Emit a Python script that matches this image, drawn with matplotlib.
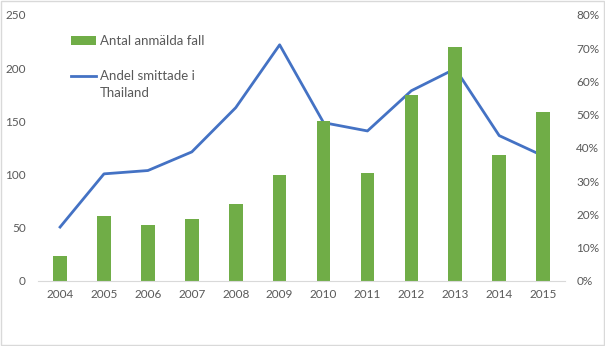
import numpy as np
import matplotlib.pyplot as plt
from matplotlib.ticker import PercentFormatter

years = ['2004', '2005', '2006', '2007', '2008', '2009',
         '2010', '2011', '2012', '2013', '2014', '2015']
cases = [23, 61, 53, 58, 72, 100, 150, 101, 175, 220, 118, 159]
share_thailand = [16.2, 32.2, 33.2, 38.8, 52.1, 71.0, 47.6, 45.1, 57.2, 63.8, 43.7, 37.6]

plt.rcParams['font.family'] = ['Lato', 'DejaVu Sans']
grey = '#595959'

fig = plt.figure(figsize=(6.05, 3.46), dpi=100)
ax = fig.add_axes([0.063, 0.188, 0.871, 0.769])
ax2 = ax.twinx()

x = np.arange(len(years))
bars = ax.bar(x, cases, width=0.31, color='#70ad47', zorder=2)
line, = ax2.plot(x, share_thailand, color='#4472c4', lw=2.0, zorder=3)

ax.set_xlim(-0.5, len(years) - 0.5)
ax.set_ylim(0, 250)
ax.set_yticks(np.arange(0, 251, 50))
ax2.set_ylim(0, 80)
ax2.set_yticks(np.arange(0, 81, 10))
ax2.yaxis.set_major_formatter(PercentFormatter(decimals=0))
ax.set_xticks(x)
ax.set_xticklabels(years)

for a in (ax, ax2):
    for s in a.spines.values():
        s.set_visible(False)
    a.tick_params(length=0, labelsize=8.5, colors=grey)
ax.spines['bottom'].set_visible(True)
ax.spines['bottom'].set_color('#d9d9d9')
ax.tick_params(axis='x', pad=6)
ax.tick_params(axis='y', pad=9)
ax2.tick_params(axis='y', pad=8)

ax.set_zorder(ax2.get_zorder() + 1)
ax.patch.set_visible(False)

leg = fig.legend([bars, line], ['Antal anmälda fall', 'Andel smittade i'],
                 loc='upper left', bbox_to_anchor=(0.098, 0.932), frameon=False,
                 fontsize=9.5, handlelength=1.9, handleheight=0.7, handletextpad=0.3,
                 labelspacing=1.75, labelcolor=grey)

# second line of the legend label sits under the first, handle stays on line one
fig.canvas.draw()
bb = leg.get_texts()[1].get_window_extent().transformed(fig.transFigure.inverted())
fig.text(bb.x0, bb.y0 - 0.014, 'Thailand', fontsize=9.5, color=grey, va='top', ha='left')

fig.patches.append(plt.Rectangle((0.001, 0.002), 0.997, 0.995, transform=fig.transFigure,
                                 fill=False, edgecolor='#d9d9d9', lw=1))

fig.savefig('out.png', dpi=100)
